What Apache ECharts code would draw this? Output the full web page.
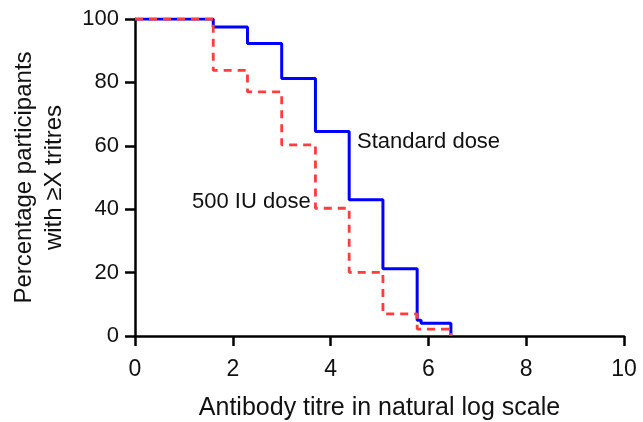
<!DOCTYPE html>
<html><head><meta charset="utf-8">
<script src="https://cdn.jsdelivr.net/npm/echarts@6/dist/echarts.min.js"></script>
<style>html,body{margin:0;padding:0;background:#fff}#c{width:643px;height:422px}</style>
</head><body><div id="c"></div>
<script>
const stepX = [0, 1.6, 2.3, 3.0, 3.69, 4.38, 5.07, 5.77, 5.85, 6.46];
const standardDose = [100, 97.5, 92.3, 81.2, 64.5, 43.0, 21.2, 5.0, 4.0, 0];
const iuDose = [100, 83.8, 77.0, 60.3, 40.3, 20.1, 7.0, 2.2, 2.2, 0];
const xTicks = [0, 2, 4, 6, 8, 10];
const yTicks = [0, 20, 40, 60, 80, 100];

const toPairs = (xs, ys) => xs.map((x, i) => [x, ys[i]]);
const font = '"Liberation Sans", Arial, sans-serif';
const chart = echarts.init(document.getElementById('c'), null, {renderer: 'canvas'});
chart.setOption({
  animation: false,
  grid: {left: 135, right: 19, top: 19, bottom: 86, containLabel: false, outerBoundsMode: 'none'},
  xAxis: {
    type: 'value', min: 0, max: 10, interval: 2,
    name: 'Antibody titre in natural log scale', nameLocation: 'middle', nameGap: 60,
    nameTextStyle: {fontFamily: font, fontSize: 25, color: '#111'},
    axisLine: {lineStyle: {color: '#000', width: 2.5}},
    axisTick: {length: 10, lineStyle: {color: '#000', width: 2.5}},
    axisLabel: {fontFamily: font, fontSize: 23, color: '#111', margin: 22},
    splitLine: {show: false}
  },
  yAxis: {
    type: 'value', min: 0, max: 100, interval: 20,
    name: 'Percentage participants\nwith ≥X tritres', nameLocation: 'middle', nameGap: 66,
    nameTextStyle: {fontFamily: font, fontSize: 24, color: '#111', lineHeight: 30},
    axisLine: {lineStyle: {color: '#000', width: 2.5}},
    axisTick: {length: 10, lineStyle: {color: '#000', width: 2.5}},
    axisLabel: {fontFamily: font, fontSize: 22, color: '#111', margin: 16},
    splitLine: {show: false}
  },
  series: [
    {name: 'Standard dose', type: 'line', step: 'end', symbol: 'none',
     data: toPairs(stepX, standardDose), lineStyle: {color: '#0000ff', width: 3}, z: 2},
    {name: '500 IU dose', type: 'line', step: 'end', symbol: 'none',
     data: toPairs(stepX, iuDose), lineStyle: {color: '#ff3b3b', width: 2.8, type: [8, 6]}, z: 3}
  ],
  graphic: [
    {type: 'text', left: 357, top: 131, style: {text: 'Standard dose', font: '22px ' + font, fill: '#111'}},
    {type: 'text', left: 192, top: 191, style: {text: '500 IU dose', font: '22px ' + font, fill: '#111'}}
  ]
});
</script></body></html>
